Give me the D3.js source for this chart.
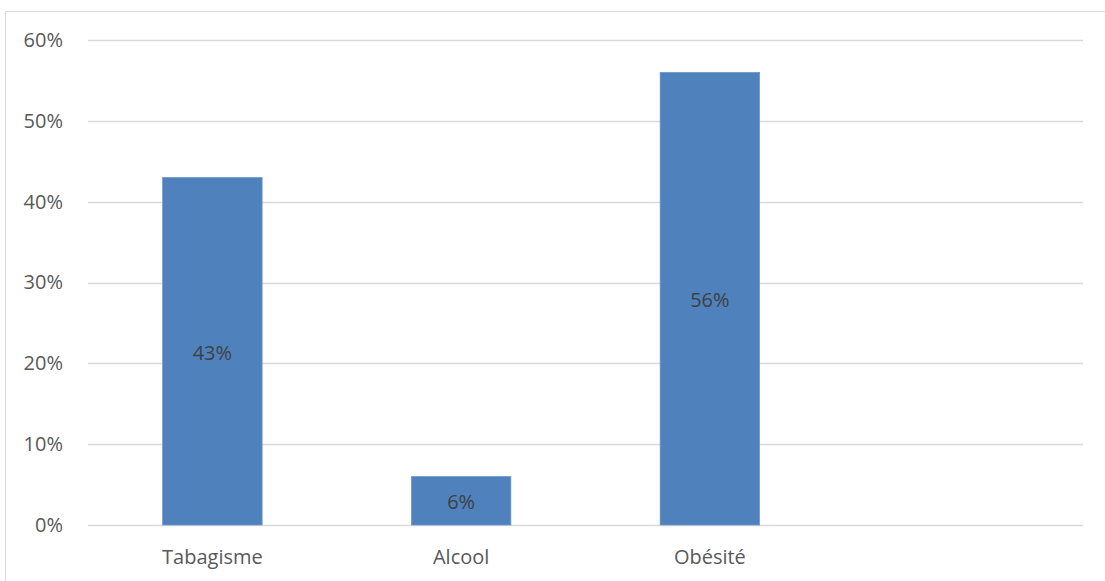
<!DOCTYPE html>
<html>
<head>
<meta charset="utf-8">
<script src="https://cdn.jsdelivr.net/npm/d3@7"></script>
<style>
  html, body { margin: 0; padding: 0; background: #ffffff; }
  svg { display: block; }
</style>
</head>
<body>
<svg id="chart" width="1105" height="581"></svg>
<script>
// Risk factors and their shares (fraction of patients)
const categories = ["Tabagisme", "Alcool", "Obésité", ""];
const values = [0.43, 0.06, 0.56, null];
const yTicks = [0, 0.1, 0.2, 0.3, 0.4, 0.5, 0.6];

const svg = d3.select("#chart");
const W = 1105, H = 581;
const margin = { left: 88, right: 22, top: 40, bottom: 56 };

const fontFamily = "'Open Sans', 'Noto Sans', sans-serif";
const fontSize = "20px";

// Chart frame
svg.append("rect")
  .attr("x", 5.5).attr("y", 11.5)
  .attr("width", W + 10).attr("height", H + 10)
  .attr("fill", "none")
  .attr("stroke", "#d9d9d9")
  .attr("stroke-width", 1);

const x = d3.scaleBand()
  .domain(categories)
  .range([margin.left, W - margin.right])
  .paddingInner(0.6)
  .paddingOuter(0.3);

const y = d3.scaleLinear()
  .domain([0, 0.6])
  .range([H - margin.bottom, margin.top]);

// Horizontal gridlines
svg.append("g")
  .selectAll("line")
  .data(yTicks)
  .join("line")
  .attr("x1", margin.left)
  .attr("x2", W - margin.right)
  .attr("y1", d => Math.round(y(d)) + 0.5)
  .attr("y2", d => Math.round(y(d)) + 0.5)
  .attr("stroke", "#d9d9d9")
  .attr("stroke-width", 1.5);

// Y axis labels
const yAxis = d3.axisLeft(y)
  .tickValues(yTicks)
  .tickFormat(d3.format(".0%"))
  .tickSize(0)
  .tickPadding(25);
const gy = svg.append("g")
  .attr("transform", `translate(${margin.left},0)`)
  .call(yAxis);
gy.select(".domain").remove();
gy.selectAll("text")
  .attr("fill", "#595959")
  .style("font-family", fontFamily)
  .style("font-size", fontSize);

// X axis labels
const xAxis = d3.axisBottom(x).tickSize(0).tickPadding(25);
const gx = svg.append("g")
  .attr("transform", `translate(0,${y(0)})`)
  .call(xAxis);
gx.select(".domain").remove();
gx.selectAll("text")
  .attr("fill", "#595959")
  .style("font-family", fontFamily)
  .style("font-size", fontSize);

const data = categories.map((c, i) => ({ cat: c, v: values[i] })).filter(d => d.v != null);

// Bars
svg.append("g")
  .selectAll("rect")
  .data(data)
  .join("rect")
  .attr("x", d => x(d.cat))
  .attr("y", d => y(d.v))
  .attr("width", x.bandwidth())
  .attr("height", d => y(0) - y(d.v))
  .attr("fill", "#4f81bd")
  .attr("stroke", "#6f98c9")
  .attr("stroke-width", 0.75);

// Value labels, centred in each bar
svg.append("g")
  .selectAll("text")
  .data(data)
  .join("text")
  .attr("x", d => x(d.cat) + x.bandwidth() / 2)
  .attr("y", d => (y(d.v) + y(0)) / 2 + 1.5)
  .attr("dy", "0.35em")
  .attr("text-anchor", "middle")
  .attr("fill", "#404040")
  .style("font-family", fontFamily)
  .style("font-size", fontSize)
  .text(d => d3.format(".0%")(d.v));
</script>
</body>
</html>
